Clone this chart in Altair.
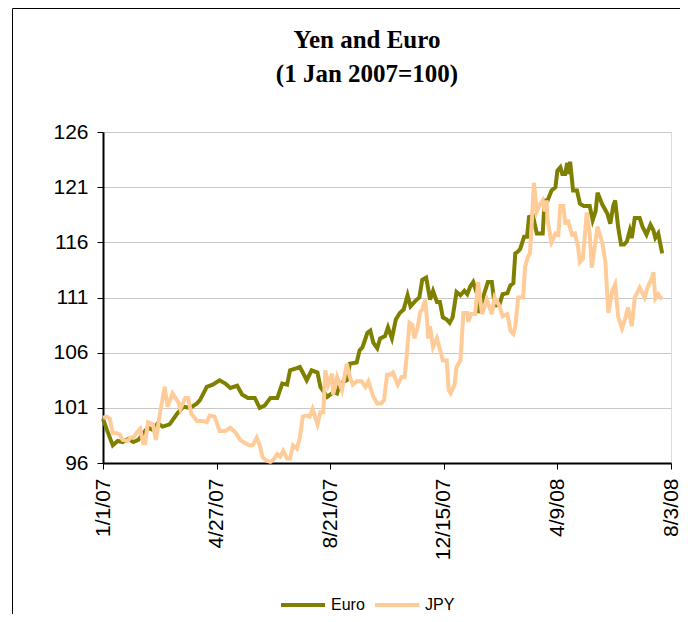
import altair as alt
import pandas as pd

series_names = ["Euro", "JPY"]
series_colors = ["#808000", "#FFCC99"]
title_lines = ["Yen and Euro", "(1 Jan 2007=100)"]

# days since 1 Jan 2007 and index values (1 Jan 2007 = 100)
euro_days = [0, 4, 10, 15, 20, 26, 31, 36, 41, 46, 51, 56, 61, 68, 76, 82, 89, 96, 99, 106,
             112, 119, 125, 130, 137, 142, 148, 155, 160, 165, 171, 178, 183, 188, 191, 198, 201, 204, 208, 213,
             219, 222, 229, 235, 239, 242, 249, 252, 259, 262, 265, 270, 273, 276, 280, 283, 288, 291, 295, 299,
             303, 307, 311, 314, 319, 323, 326, 330, 334, 337, 341, 344, 347, 351, 354, 357, 361, 365, 369, 372,
             375, 378, 382, 384, 388, 393, 397, 399, 402, 405, 408, 413, 416, 419, 421, 423, 426, 430, 433, 435,
             439, 443, 446, 449, 451, 454, 458, 462, 464, 467, 469, 472, 474, 475, 477, 480, 484, 487, 491, 497,
             500, 503, 505, 510, 515, 518, 521, 523, 526, 529, 532, 535, 538, 540, 543, 548, 551, 555, 559, 562,
             564, 567, 571]
euro_vals = [100.0, 99.0, 97.6, 98.0, 97.9, 98.2, 97.9, 98.1, 98.7, 99.2, 99.0, 99.6, 99.3, 99.5, 100.5, 101.1, 101.0, 101.4, 101.7, 102.9,
             103.1, 103.5, 103.2, 102.8, 103.0, 102.2, 101.9, 101.9, 101.0, 101.2, 101.9, 101.9, 103.2, 103.1, 104.4, 104.6, 104.7, 104.2, 103.5, 104.4,
             104.2, 102.9, 102.0, 102.4, 102.3, 103.2, 103.5, 105.0, 105.1, 106.2, 106.5, 107.8, 108.0, 106.9, 106.4, 107.3, 107.5, 108.3, 107.3, 109.0,
             109.6, 109.9, 111.2, 110.2, 110.7, 111.0, 112.6, 112.8, 110.8, 111.6, 110.6, 110.6, 109.2, 109.0, 108.7, 109.2, 111.5, 111.2, 111.6, 111.3,
             112.0, 112.4, 111.3, 109.6, 111.0, 112.4, 112.4, 111.0, 110.3, 110.4, 111.3, 111.4, 112.1, 112.3, 115.0, 115.1, 115.4, 116.5, 116.5, 118.3,
             118.4, 116.8, 116.8, 116.8, 119.8, 119.8, 120.7, 121.0, 122.5, 122.8, 122.2, 122.2, 123.2, 122.2, 123.3, 120.7, 120.7, 119.5, 119.3, 119.3,
             118.0, 118.8, 120.5, 119.4, 118.6, 117.7, 119.3, 119.8, 117.4, 115.8, 115.8, 116.1, 117.1, 116.4, 118.2, 118.2, 117.4, 116.7, 117.6, 117.1,
             116.4, 116.8, 115.0]

jpy_days = [0, 4, 7, 10, 14, 17, 20, 25, 28, 31, 35, 38, 41, 43, 46, 51, 54, 58, 63, 66,
            71, 77, 79, 84, 87, 90, 96, 102, 106, 109, 114, 119, 125, 130, 135, 140, 145, 150, 153, 157,
            160, 163, 167, 171, 174, 178, 181, 184, 188, 191, 194, 198, 201, 204, 208, 211, 214, 219, 222, 225,
            227, 230, 234, 235, 239, 244, 249, 252, 255, 259, 264, 268, 271, 276, 280, 284, 287, 290, 293, 296,
            301, 305, 308, 310, 313, 316, 318, 321, 324, 326, 329, 331, 332, 334, 337, 341, 344, 347, 351, 353,
            355, 359, 361, 365, 368, 372, 373, 376, 380, 383, 387, 392, 397, 400, 405, 408, 413, 416, 419, 421,
            424, 429, 431, 434, 436, 438, 440, 443, 446, 449, 451, 453, 454, 458, 462, 465, 467, 470, 472, 475,
            479, 482, 485, 487, 490, 494, 497, 499, 502, 505, 510, 513, 516, 520, 523, 526, 530, 533, 536, 540,
            543, 548, 553, 556, 561, 562, 564, 567, 571]
jpy_vals = [100.1, 100.2, 100.0, 98.7, 98.7, 98.6, 98.1, 98.0, 98.3, 98.3, 98.8, 99.1, 97.8, 97.8, 99.7, 99.5, 98.1, 100.4, 102.9, 101.1,
            102.3, 101.5, 100.9, 101.9, 101.9, 100.5, 99.8, 99.8, 99.7, 100.3, 100.2, 98.9, 98.9, 99.2, 98.8, 98.1, 97.8, 97.6, 97.6, 98.3,
            97.6, 96.5, 96.2, 96.1, 96.3, 96.8, 96.6, 97.1, 96.4, 96.4, 97.6, 97.3, 98.3, 100.2, 100.3, 100.2, 100.9, 99.5, 100.6, 100.6,
            104.4, 103.1, 104.1, 102.2, 103.8, 102.6, 105.0, 103.8, 103.1, 103.4, 103.4, 102.9, 103.4, 102.0, 101.4, 101.4, 101.7, 104.0, 104.0, 104.2,
            103.1, 103.8, 103.8, 105.6, 108.7, 108.5, 107.3, 108.2, 109.7, 109.9, 110.8, 108.8, 107.3, 108.4, 106.5, 107.3, 106.3, 105.3, 105.3, 102.6,
            102.3, 103.1, 104.7, 105.3, 109.6, 109.6, 108.8, 109.5, 109.5, 112.4, 109.5, 110.8, 109.5, 111.0, 110.2, 109.3, 109.5, 108.0, 107.7, 108.4,
            111.0, 111.0, 113.8, 114.7, 115.0, 118.0, 121.4, 118.8, 119.4, 119.8, 118.8, 119.8, 118.0, 116.0, 116.8, 116.7, 119.3, 119.3, 117.8, 117.9,
            116.7, 116.8, 115.6, 114.2, 114.5, 118.7, 116.8, 113.7, 115.5, 117.4, 115.9, 114.2, 109.6, 111.6, 112.2, 109.3, 108.2, 109.0, 110.1, 108.4,
            111.0, 111.9, 111.0, 111.9, 112.9, 113.3, 110.9, 111.3, 110.8]

y_ticks = [96, 101, 106, 111, 116, 121, 126]
x_tick_dates = [(2007, 1, 1), (2007, 4, 27), (2007, 8, 21), (2007, 12, 15), (2008, 4, 9), (2008, 8, 3)]

start = pd.Timestamp("2007-01-01")


def frame(name, days, vals):
    dates = (start + pd.to_timedelta(days, unit="D")).strftime("%Y-%m-%d")
    return pd.DataFrame({"date": dates, "value": vals, "series": name})


euro_df = frame("Euro", euro_days, euro_vals)
jpy_df = frame("JPY", jpy_days, jpy_vals)

x_enc = alt.X(
    "date:T",
    scale=alt.Scale(type="utc",
                    domain=[alt.DateTime(year=2007, month=1, date=1, utc=True),
                            alt.DateTime(year=2008, month=8, date=3, utc=True)]),
    axis=alt.Axis(
        values=[alt.DateTime(year=y, month=m, date=d, utc=True) for (y, m, d) in x_tick_dates],
        labelExpr="utcFormat(datum.value, '%-m/%-d/%y')", labelAngle=270, grid=False,
        title=None, tickSize=6, labelPadding=9, labelFontSize=21,
        domainWidth=2, domainColor="#000000", tickColor="#000000", labelColor="#000000",
        labelFont="Liberation Sans", labelOverlap=False, labelBound=False, labelFlush=False,
    ),
)
y_enc = alt.Y(
    "value:Q",
    scale=alt.Scale(domain=[96, 126], nice=False, zero=False),
    axis=alt.Axis(
        values=y_ticks, title=None, tickSize=6, labelPadding=9, labelFontSize=21,
        grid=True, gridColor="#c8c8c8", gridWidth=1,
        domainWidth=2, domainColor="#000000", tickColor="#000000", labelColor="#000000",
        labelFont="Liberation Sans",
    ),
)
color_enc = alt.Color(
    "series:N",
    scale=alt.Scale(domain=series_names, range=series_colors),
    legend=alt.Legend(
        title=None, orient="none", legendX=176, legendY=449, direction="horizontal",
        symbolType="stroke", symbolSize=1936, symbolStrokeWidth=4,
        labelFontSize=16, labelFont="Liberation Sans", labelColor="#000000",
        labelOffset=4, columnPadding=2,
    ),
)

euro_line = alt.Chart(euro_df).mark_line(strokeWidth=4).encode(x=x_enc, y=y_enc, color=color_enc)
jpy_line = alt.Chart(jpy_df).mark_line(strokeWidth=4).encode(x=x_enc, y=y_enc, color=color_enc)

one = pd.DataFrame({"k": [0]})
frame_left = alt.Chart(one).mark_rule(color="#000000", strokeWidth=1).encode(
    x=alt.value(-90.5), y=alt.value(-123.5), y2=alt.value(482))
frame_top = alt.Chart(one).mark_rule(color="#000000", strokeWidth=1).encode(
    x=alt.value(-90.5), x2=alt.value(577), y=alt.value(-123.5))

title_style = dict(font="Liberation Serif", fontSize=25, fontWeight="bold", color="#000000",
                   align="center", baseline="alphabetic")
title_1 = alt.Chart(pd.DataFrame({"t": [title_lines[0]]})).mark_text(**title_style).encode(
    text="t:N", x=alt.value(264), y=alt.value(-84))
title_2 = alt.Chart(pd.DataFrame({"t": [title_lines[1]]})).mark_text(**title_style).encode(
    text="t:N", x=alt.value(264), y=alt.value(-50))

chart = alt.layer(frame_left, frame_top, title_1, title_2, euro_line, jpy_line).properties(
    width=568, height=331,
    autosize=alt.AutoSizeParams(type="none"),
    padding={"left": 95, "top": 124, "right": 9, "bottom": 151},
).configure_view(stroke="#000000", strokeWidth=1).configure(background="#ffffff")

chart.save("out.html", embed_options={"renderer": "svg", "actions": False})
